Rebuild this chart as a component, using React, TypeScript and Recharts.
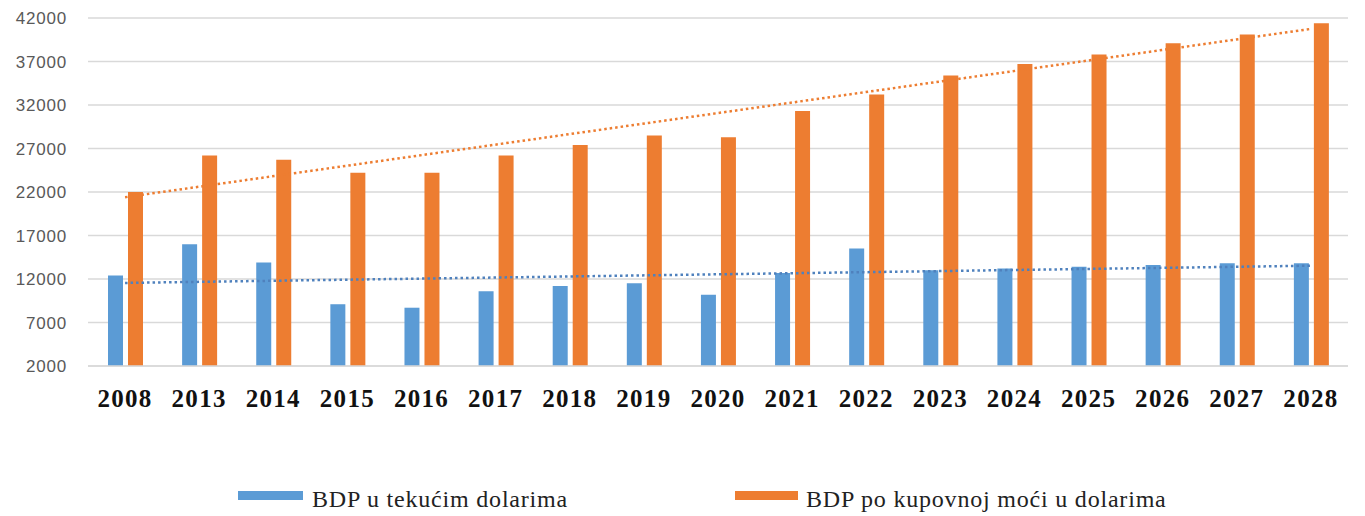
import React from 'react';
import { ComposedChart, Bar, Line, XAxis, YAxis, CartesianGrid, Legend } from 'recharts';

const years = ['2008', '2013', '2014', '2015', '2016', '2017', '2018', '2019', '2020', '2021', '2022', '2023', '2024', '2025', '2026', '2027', '2028'];
const bdpTekuci = [12400, 16000, 13900, 9100, 8700, 10600, 11200, 11500, 10200, 12700, 15500, 13000, 13200, 13400, 13600, 13800, 13800];
const bdpKupovna = [22000, 26200, 25700, 24200, 24200, 26200, 27400, 28500, 28300, 31300, 33200, 35400, 36700, 37800, 39100, 40100, 41400];
const trendTekuci: (number | null)[] = [11550, null, null, null, null, null, null, null, null, null, null, null, null, null, null, null, 13530];
const trendKupovna: (number | null)[] = [21400, null, null, null, null, null, null, null, null, null, null, null, null, null, null, null, 40750];
const yTicks = [2000, 7000, 12000, 17000, 22000, 27000, 32000, 37000, 42000];
const legendLabels = ['BDP u tekućim dolarima', 'BDP po kupovnoj moći u dolarima'];

const BLUE = '#5b9bd5';
const ORANGE = '#ed7d31';

const data = years.map((y, i) => ({
  year: y,
  a: bdpTekuci[i],
  b: bdpKupovna[i],
  ta: trendTekuci[i],
  tb: trendKupovna[i],
}));

const LegendContent = () => (
  <div style={{ position: 'relative', height: 40, width: 1365, fontFamily: '"Liberation Serif", "Times New Roman", serif', fontSize: 24, letterSpacing: 0.8, color: '#222' }}>
    <div style={{ position: 'absolute', left: 238, top: 15, width: 65, height: 9, background: BLUE }} />
    <span style={{ position: 'absolute', left: 312, top: 11, lineHeight: '24px', whiteSpace: 'nowrap' }}>{legendLabels[0]}</span>
    <div style={{ position: 'absolute', left: 735, top: 15, width: 63, height: 9, background: ORANGE }} />
    <span style={{ position: 'absolute', left: 806, top: 11, lineHeight: '24px', whiteSpace: 'nowrap' }}>{legendLabels[1]}</span>
  </div>
);

export default function App() {
  return (
    <div style={{ position: 'absolute', left: 0, top: 0, width: 1365, height: 516, background: '#fff' }}>
      <ComposedChart
        width={1365}
        height={516}
        data={data}
        margin={{ top: 18, right: 17, left: 0, bottom: 0 }}
        barSize={15}
        barGap={5}
      >
        <CartesianGrid vertical={false} stroke="#d9d9d9" strokeWidth={1.5} />
        <XAxis
          dataKey="year"
          height={110}
          axisLine={{ stroke: '#d9d9d9', strokeWidth: 1.5 }}
          tickLine={false}
          tickMargin={17}
          interval={0}
          tick={{ fontFamily: '"Liberation Serif", "Times New Roman", serif', fontWeight: 'bold', fontSize: 25, fill: '#111', letterSpacing: 1.3 }}
        />
        <YAxis
          width={88}
          domain={[2000, 42000]}
          ticks={yTicks}
          axisLine={false}
          tickLine={false}
          tickMargin={15}
          interval={0}
          tick={{ fontFamily: '"Liberation Sans", Arial, sans-serif', fontSize: 17, fill: '#595959', letterSpacing: 0.8 }}
        />
        <Legend verticalAlign="bottom" content={<LegendContent />} />
        <Bar dataKey="a" fill={BLUE} isAnimationActive={false} />
        <Bar dataKey="b" fill={ORANGE} isAnimationActive={false} />
        <Line dataKey="ta" type="linear" stroke="#4f81bd" strokeWidth={2.5} strokeDasharray="2.5 3" dot={false} connectNulls isAnimationActive={false} legendType="none" />
        <Line dataKey="tb" type="linear" stroke={ORANGE} strokeWidth={2.5} strokeDasharray="2.5 3" dot={false} connectNulls isAnimationActive={false} legendType="none" />
      </ComposedChart>
    </div>
  );
}
